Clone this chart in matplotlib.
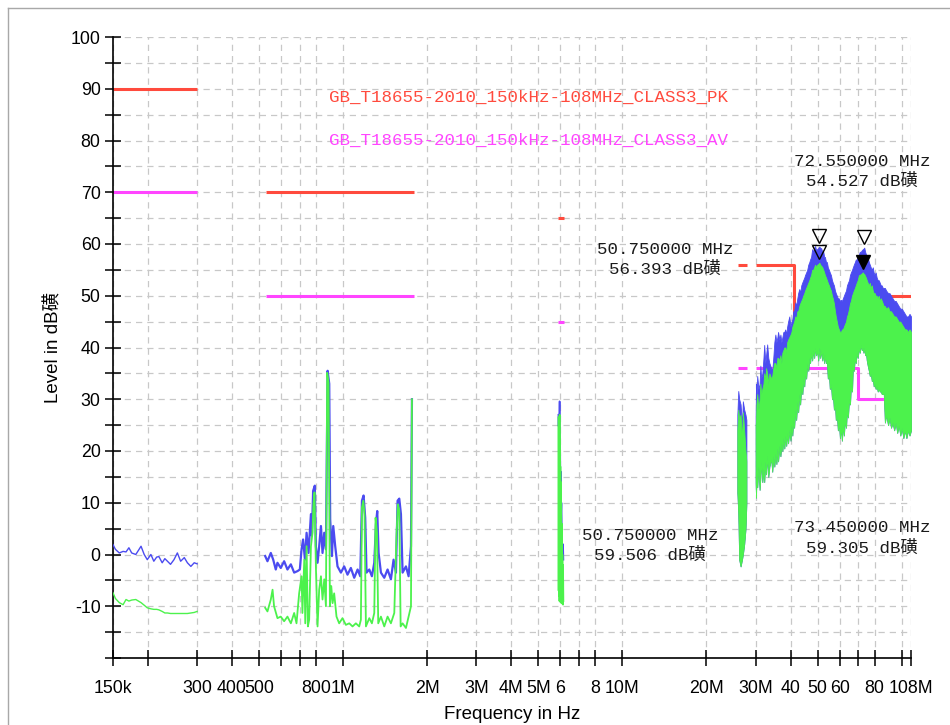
import matplotlib
matplotlib.use("Agg")
import matplotlib.pyplot as plt
from matplotlib.lines import Line2D
from matplotlib.transforms import offset_copy

# ---------------------------------------------------------------------------
# Limit lines (frequency in MHz, level in dBuV)
# ---------------------------------------------------------------------------
PK_LIMIT_F = [[0.15, 0.30], [0.53, 1.8], [5.9, 6.2], [26.0, 28.0],
              [30.0, 41.0, 41.0, 76.0, 76.0, 108.0]]
PK_LIMIT_L = [[90, 90], [70, 70], [65, 65], [56, 56],
              [56, 56, 46, 46, 50, 50]]
AV_LIMIT_F = [[0.15, 0.30], [0.53, 1.8], [5.9, 6.2], [26.0, 28.0],
              [30.0, 70.0, 70.0, 87.0]]
AV_LIMIT_L = [[70, 70], [50, 50], [45, 45], [36, 36],
              [36, 36, 30, 30]]

# ---------------------------------------------------------------------------
# LW band 150 kHz - 300 kHz
# ---------------------------------------------------------------------------
lw_f = [0.150, 0.153, 0.158, 0.163, 0.167, 0.171, 0.175, 0.181, 0.185, 0.189,
        0.194, 0.199, 0.205, 0.210, 0.215, 0.219, 0.225, 0.230, 0.235, 0.241,
        0.248, 0.255, 0.262, 0.270, 0.277, 0.285, 0.293, 0.300]
lw_pk = [1.9, 1.0, 0.3, 0.6, 0.5, 1.3, 0.3, 0.0, 0.8, 1.6,
         0.0, -1.0, 0.0, -1.3, -0.5, -0.4, -1.6, -0.8, -1.3, -1.9,
         -1.0, 0.3, -1.3, -0.6, -1.6, -2.3, -1.6, -1.8]
lw_av = [-7.4, -8.5, -9.3, -9.7, -8.7, -9.0, -8.8, -8.7, -9.0, -9.3,
         -9.8, -10.3, -10.5, -10.6, -10.6, -10.7, -11.0, -11.3, -11.3, -11.4,
         -11.4, -11.4, -11.4, -11.4, -11.4, -11.3, -11.2, -11.0]

# ---------------------------------------------------------------------------
# MW band 530 kHz - 1.8 MHz
# ---------------------------------------------------------------------------
mw_pk_f = [0.526, 0.536, 0.551, 0.562, 0.574, 0.582, 0.598, 0.615, 0.632, 0.650,
           0.668, 0.687, 0.700, 0.710, 0.719, 0.730, 0.740, 0.752, 0.767, 0.773,
           0.781, 0.792, 0.799, 0.810, 0.821, 0.833, 0.844, 0.856, 0.868, 0.880,
           0.892, 0.899, 0.912, 0.922, 0.937, 0.955, 0.982, 1.009, 1.037, 1.066,
           1.096, 1.127, 1.152, 1.168, 1.184, 1.200, 1.213, 1.241, 1.268, 1.293,
           1.311, 1.325, 1.340, 1.366, 1.404, 1.443, 1.483, 1.516, 1.546, 1.567,
           1.589, 1.611, 1.633, 1.679, 1.716, 1.750, 1.764]
mw_pk = [-0.3, -1.3, 0.3, -1.0, -2.9, -1.6, -2.6, -1.3, -2.9, -1.9,
         -3.5, -3.2, -2.9, 1.0, 2.9, -1.0, 4.2, 0.3, 7.8, 3.6,
         12.3, 13.3, 1.6, -1.6, 1.6, 5.5, 0.3, 4.2, 1.0, 35.5,
         33.0, 6.8, -0.3, 5.5, 1.6, -2.3, -3.5, -2.3, -3.9, -2.6,
         -4.5, -2.9, -4.2, 10.4, 11.4, 7.1, -3.5, -2.9, -4.2, -1.6,
         5.8, 8.4, 0.3, -3.5, -4.5, -2.9, -4.8, -1.0, -3.5, 10.4,
         10.8, 7.8, -3.5, -2.3, -4.2, 1.6, 30.0]

mw_av_f = [0.526, 0.536, 0.551, 0.559, 0.566, 0.582, 0.598, 0.615, 0.632, 0.650,
           0.668, 0.681, 0.696, 0.710, 0.715, 0.726, 0.732, 0.740, 0.748, 0.756,
           0.767, 0.777, 0.783, 0.790, 0.799, 0.810, 0.821, 0.833, 0.844, 0.856,
           0.868, 0.877, 0.887, 0.897, 0.907, 0.917, 0.929, 0.947, 0.968, 0.995,
           1.023, 1.052, 1.081, 1.111, 1.142, 1.158, 1.168, 1.181, 1.193, 1.207,
           1.241, 1.268, 1.293, 1.307, 1.322, 1.336, 1.366, 1.404, 1.443, 1.483,
           1.525, 1.554, 1.572, 1.589, 1.607, 1.633, 1.679, 1.716, 1.750, 1.764]
mw_av = [-10.3, -11.0, -8.7, -6.8, -10.0, -12.3, -12.0, -12.9, -12.0, -13.3,
         -11.3, -13.3, -7.5, -4.2, -11.3, -1.0, -13.3, 1.6, -13.9, -12.6,
         1.6, 4.2, 9.7, 12.0, -2.3, -13.9, -6.8, -4.2, -8.7, -4.8,
         -10.0, 35.1, 33.2, -10.0, -6.1, -9.4, -7.5, -12.0, -13.3, -12.3,
         -13.6, -13.3, -13.9, -13.3, -13.9, -12.6, 9.0, 10.4, 7.8, -13.9,
         -12.3, -13.3, -11.3, 7.1, 4.2, -13.3, -12.0, -13.9, -12.0, -13.3,
         -11.3, 4.2, 9.7, 8.4, -13.9, -13.3, -14.2, -12.0, -10.0, 30.0]

# ---------------------------------------------------------------------------
# SW band 5.9 MHz - 6.2 MHz
# ---------------------------------------------------------------------------
sw_pk_f = [5.90, 5.91, 5.92, 5.94, 5.96, 5.97, 5.99, 6.00, 6.02, 6.03,
           6.05, 6.07, 6.09, 6.11, 6.13, 6.15]
sw_pk = [27.0, 24.8, 26.7, 25.0, 29.6, 24.8, 19.0, 12.0, 16.0, 7.4,
         10.0, 4.8, 1.0, -1.0, 2.0, -1.0]
sw_av_f = [5.90, 5.91, 5.92, 5.93, 5.94, 5.95, 5.96, 5.97, 5.98, 5.99,
           6.00, 6.01, 6.02, 6.03, 6.04, 6.05, 6.06, 6.07, 6.08, 6.09,
           6.10, 6.11, 6.12, 6.13, 6.14, 6.15]
sw_av = [26.5, -7.0, 25.0, -8.0, 23.0, -9.0, 27.0, -7.5, 20.0, -8.5,
         17.0, -9.3, 14.0, -7.0, 10.0, -9.0, 6.0, -8.0, 3.0, -9.5,
         0.0, -8.0, -2.0, -9.7, -5.0, -9.0]

# ---------------------------------------------------------------------------
# CB band 26 - 28 MHz (sweep envelopes)
# ---------------------------------------------------------------------------
cb_f = [25.8, 26.0, 26.2, 26.5, 26.8, 27.0, 27.3, 27.6, 27.8]
cb_pk_hi = [27.0, 31.6, 30.0, 29.0, 25.0, 29.6, 28.0, 27.0, 26.0]
cb_av_hi = [24.0, 28.0, 26.0, 27.0, 22.0, 27.5, 24.0, 20.0, 18.0]
cb_av_lo = [12.0, 8.0, -1.0, -2.3, -1.0, 0.0, 2.0, 5.0, 10.0]

# ---------------------------------------------------------------------------
# VHF 30 - 108 MHz (sweep envelopes)
# ---------------------------------------------------------------------------
hb_f = [30.0, 30.1, 30.2, 30.4, 30.7, 31.0, 31.2, 31.4, 31.7, 32.0,
        32.2, 32.5, 32.7, 33.0, 33.3, 33.6, 34.1, 34.4, 34.7, 35.0,
        35.3, 35.6, 35.9, 36.1, 36.5, 36.8, 37.1, 37.4, 37.7, 38.0,
        38.3, 38.6, 38.9, 39.2, 39.6, 40.0, 40.3, 40.6, 40.9, 41.2,
        41.6, 41.9, 42.3, 42.6, 43.0, 43.3, 43.7, 44.1, 44.4, 44.8,
        45.1, 45.5, 45.9, 46.3, 46.7, 47.0, 47.4, 47.8, 48.2, 48.6,
        49.0, 49.4, 49.8, 50.25, 50.75, 51.1, 51.5, 52.0, 52.4, 52.8,
        53.1, 53.6, 54.0, 54.4, 54.9, 55.3, 55.8, 56.3, 56.7, 57.2,
        57.7, 58.1, 58.6, 59.1, 59.6, 60.1, 60.6, 61.1, 61.6, 62.1,
        62.6, 63.2, 63.7, 64.2, 64.8, 65.3, 65.8, 66.4, 66.9, 67.4,
        68.0, 68.5, 69.0, 69.6, 70.3, 70.8, 71.4, 72.0, 72.55, 73.0,
        73.45, 74.0, 74.5, 75.0, 75.6, 76.3, 76.9, 77.5, 78.2, 78.8,
        79.4, 80.1, 80.7, 81.4, 82.1, 82.8, 83.5, 84.2, 84.9, 85.6,
        86.3, 87.1, 88.0, 89.4, 90.5, 91.6, 92.8, 94.0, 95.2, 96.4,
        97.6, 98.9, 100.1, 101.4, 102.7, 104.0, 105.4, 106.7, 108.0]
hb_pk_hi = [27.0, 33.0, 30.0, 34.5, 32.0, 33.0, 36.5, 34.0, 35.0, 38.0,
            40.5, 37.0, 38.5, 40.6, 38.0, 37.0, 36.0, 35.5, 38.0, 41.0,
            42.5, 41.0, 42.0, 43.0, 41.5, 42.5, 41.0, 42.0, 43.0, 43.0,
            43.5, 42.5, 44.0, 45.0, 46.0, 44.0, 45.0, 45.5, 47.0, 47.0,
            48.7, 48.0, 49.5, 50.5, 51.3, 50.5, 52.0, 52.6, 53.0, 53.5,
            54.0, 54.5, 55.0, 56.0, 56.5, 57.0, 57.5, 59.0, 58.5, 59.3,
            59.6, 58.8, 59.0, 59.2, 59.506, 59.2, 59.2, 58.5, 58.5, 57.5,
            57.5, 56.5, 56.5, 55.5, 55.0, 54.5, 54.0, 53.0, 52.5, 52.0,
            51.0, 50.5, 50.0, 49.5, 49.5, 49.0, 49.2, 49.0, 49.5, 50.0,
            50.5, 51.0, 52.0, 52.5, 53.0, 54.0, 54.5, 55.0, 55.5, 56.0,
            56.5, 57.0, 57.0, 57.5, 58.0, 58.5, 58.5, 58.8, 59.0, 59.1,
            59.305, 58.5, 58.0, 57.0, 57.5, 56.5, 56.0, 55.5, 55.0, 55.5,
            54.5, 54.0, 54.5, 53.5, 53.0, 53.0, 52.5, 52.0, 52.0, 51.5,
            51.5, 51.5, 51.0, 50.5, 50.5, 50.0, 49.5, 49.0, 49.0, 48.5,
            48.0, 47.5, 47.5, 47.0, 46.5, 46.0, 46.0, 46.5, 46.0]
hb_av_hi = [25.0, 26.0, 29.0, 31.0, 28.0, 30.0, 33.0, 31.0, 32.0, 33.0,
            35.0, 34.0, 36.0, 35.0, 33.0, 35.0, 34.0, 34.5, 36.0, 37.0,
            37.0, 36.0, 38.0, 38.0, 37.5, 38.5, 37.0, 39.0, 39.5, 40.0,
            40.0, 39.0, 41.0, 41.5, 42.0, 42.5, 43.0, 44.0, 44.5, 45.0,
            46.0, 45.5, 47.0, 47.0, 48.0, 48.5, 49.0, 49.5, 50.0, 50.5,
            51.0, 51.5, 52.0, 52.5, 53.0, 53.5, 54.0, 55.0, 55.0, 55.5,
            56.0, 55.5, 56.0, 56.1, 56.393, 56.0, 55.8, 55.5, 55.0, 54.5,
            54.0, 53.5, 53.0, 52.5, 52.0, 51.5, 51.0, 50.0, 49.5, 48.5,
            47.0, 46.0, 45.0, 44.0, 43.5, 43.0, 43.0, 43.5, 43.5, 44.0,
            44.5, 45.0, 46.0, 46.5, 47.5, 48.5, 49.0, 50.0, 50.5, 51.0,
            51.5, 52.0, 52.5, 53.0, 54.0, 54.0, 54.2, 54.3, 54.527, 54.3,
            54.2, 53.8, 53.5, 53.0, 52.5, 52.0, 52.5, 51.5, 52.0, 51.0,
            50.5, 50.5, 50.0, 50.0, 49.5, 50.0, 49.0, 49.5, 49.0, 48.5,
            48.0, 48.0, 47.5, 47.8, 47.0, 47.0, 46.5, 46.0, 46.0, 45.5,
            45.0, 45.0, 44.5, 44.0, 43.5, 43.5, 43.0, 43.5, 43.0]
hb_av_lo = [14.0, 11.0, 16.0, 13.0, 17.0, 12.5, 15.0, 18.0, 14.0, 16.5,
            14.0, 18.0, 15.5, 19.0, 15.0, 17.0, 18.5, 16.0, 19.0, 17.0,
            19.5, 17.5, 20.5, 18.0, 21.0, 19.0, 21.5, 20.0, 22.5, 20.5,
            23.0, 21.0, 23.5, 21.5, 24.0, 22.0, 25.0, 23.0, 26.0, 24.5,
            28.0, 26.0, 29.5, 27.5, 31.0, 29.0, 32.5, 31.0, 34.0, 32.5,
            35.5, 34.0, 37.0, 35.5, 38.0, 37.0, 39.0, 37.5, 39.5, 38.0,
            40.0, 38.5, 39.5, 37.5, 40.0, 38.0, 39.5, 37.5, 39.0, 37.0,
            38.5, 37.0, 37.0, 34.0, 35.0, 32.0, 33.0, 30.0, 31.0, 28.0,
            29.0, 26.0, 27.0, 24.0, 25.5, 22.5, 24.5, 22.0, 25.0, 23.0,
            26.0, 24.5, 28.0, 26.5, 30.0, 29.0, 32.5, 31.5, 36.5, 35.5,
            38.0, 37.0, 39.0, 38.0, 40.0, 39.0, 40.5, 39.5, 40.0, 39.0,
            40.0, 38.5, 39.0, 37.5, 36.5, 35.5, 34.5, 35.0, 33.5, 34.0,
            32.5, 33.0, 32.0, 32.5, 31.5, 32.0, 31.5, 31.5, 31.0, 31.0,
            31.0, 25.5, 27.0, 25.0, 26.5, 24.5, 25.5, 24.0, 25.5, 23.5,
            25.0, 23.0, 24.5, 22.5, 24.0, 22.5, 24.0, 23.0, 24.0]

# Peak markers: (freq MHz, level dBuV, filled?)
MARKERS = [(50.75, 59.506, False), (50.75, 56.393, False),
           (73.45, 59.305, False), (72.55, 54.527, True)]

# Marker readouts: (text x MHz, text y dB, freq MHz, level dB)
READOUTS = [(72.2, 74.0, 72.55, 54.527), (14.2, 57.0, 50.75, 56.393),
            (12.6, 1.7, 50.75, 59.506), (72.2, 3.2, 73.45, 59.305)]

XTICKS = [0.15, 0.2, 0.3, 0.4, 0.5, 0.6, 0.7, 0.8, 1, 2, 3, 4, 5, 6, 7, 8,
          10, 20, 30, 40, 50, 60, 70, 80, 100, 108]
XTICKLABELS = ["150k", "", "300", "400", "500", "", "", "800", "1M", "2M",
               "3M", "4M", "5M", "6", "", "8", "10M", "20M", "30M", "40",
               "50", "60", "", "80", "", "108M"]
YTICKS = list(range(-20, 101, 5))
YTICKLABELS = [str(v) if v % 10 == 0 and v > -20 else "" for v in YTICKS]

PK_COLOR = "#4b4bf0"
AV_COLOR = "#4cf24c"
PK_LIM_COLOR = "#ff4a3d"
AV_LIM_COLOR = "#ff45ff"

SANS = ["Liberation Sans", "Noto Sans CJK SC"]
MONO = ["Liberation Mono", "Noto Sans CJK SC"]

fig = plt.figure(figsize=(9.5, 7.25), dpi=100)
fig.patch.set_facecolor("white")
ax = fig.add_axes([113 / 950, 1 - 658 / 725, 798 / 950, 621 / 725])

# limits below the traces
for f, l in zip(PK_LIMIT_F, PK_LIMIT_L):
    ax.plot(f, l, color=PK_LIM_COLOR, lw=2.2, zorder=2, solid_capstyle="butt")
for f, l in zip(AV_LIMIT_F, AV_LIMIT_L):
    ax.plot(f, l, color=AV_LIM_COLOR, lw=2.2, zorder=2, solid_capstyle="butt")

# peak (blue) traces
ax.plot(lw_f, lw_pk, color=PK_COLOR, lw=1.0, zorder=3)
ax.plot(mw_pk_f, mw_pk, color=PK_COLOR, lw=1.6, zorder=3)
ax.plot(sw_pk_f, sw_pk, color=PK_COLOR, lw=1.2, zorder=3)
ax.fill_between(cb_f, cb_av_lo, cb_pk_hi, color=PK_COLOR, lw=0.6, zorder=3)
ax.fill_between(hb_f, hb_av_lo, hb_pk_hi, color=PK_COLOR, lw=0.6, zorder=3)

# average (green) traces
ax.plot(lw_f, lw_av, color=AV_COLOR, lw=1.0, zorder=4)
ax.plot(mw_av_f, mw_av, color=AV_COLOR, lw=1.3, zorder=4)
ax.plot(sw_av_f, sw_av, color=AV_COLOR, lw=1.2, zorder=4)
ax.fill_between(cb_f, cb_av_lo, cb_av_hi, color=AV_COLOR, lw=0.6, zorder=4)
ax.fill_between(hb_f, hb_av_lo, hb_av_hi, color=AV_COLOR, lw=0.6, zorder=4)

# triangle markers sit just above the level they flag
mk_trans = offset_copy(ax.transData, fig=fig, x=0, y=7.5, units="points")
for f, lev, filled in MARKERS:
    ax.plot(f, lev, marker="v", ms=10, mew=1.0, mec="black",
            mfc="black" if filled else "none", transform=mk_trans,
            zorder=6, clip_on=False)

for tx, ty, f, lev in READOUTS:
    ax.text(tx, ty, f"{f:.6f} MHz\n{lev:.3f} dB磺", ha="center", va="center",
            fontsize=12.6, family=MONO, color="#1a1a1a", linespacing=1.3,
            zorder=7)

ax.text(0.893, 88.4, "GB_T18655-2010_150kHz-108MHz_CLASS3_PK",
        color=PK_LIM_COLOR, fontsize=12.6, family=MONO, va="center", zorder=7)
ax.text(0.893, 80.1, "GB_T18655-2010_150kHz-108MHz_CLASS3_AV",
        color=AV_LIM_COLOR, fontsize=12.6, family=MONO, va="center", zorder=7)

ax.set_xscale("log")
ax.set_xlim(0.15, 108)
ax.set_ylim(-20, 100)
ax.set_xticks(XTICKS)
ax.set_xticklabels(XTICKLABELS)
ax.xaxis.set_minor_locator(matplotlib.ticker.NullLocator())
ax.set_yticks(YTICKS)
ax.set_yticklabels(YTICKLABELS)

for lab in ax.get_xticklabels() + ax.get_yticklabels():
    lab.set_family(SANS)
    lab.set_fontsize(12.8)
ax.tick_params(axis="both", direction="inout", length=12, width=1.1,
               colors="black")
ax.tick_params(axis="x", pad=10)
ax.tick_params(axis="y", pad=3)

ax.grid(True, ls=(0, (5, 4)), color="#c8c8c8", lw=0.9, zorder=0)
ax.set_axisbelow(True)
for sp in ("top", "right"):
    ax.spines[sp].set_visible(False)
for sp in ("left", "bottom"):
    ax.spines[sp].set_linewidth(1.2)

ax.set_xlabel("Frequency in Hz", family=SANS, fontsize=13.5, labelpad=6)
ax.set_ylabel("Level in dB磺", family=SANS, fontsize=13.5, labelpad=6)

# thin frame round the whole panel
fig.add_artist(Line2D([8 / 950, 8 / 950], [0, 1 - 8 / 725],
                      transform=fig.transFigure, color="#a8a8a8", lw=1))
fig.add_artist(Line2D([8 / 950, 1], [1 - 8 / 725, 1 - 8 / 725],
                      transform=fig.transFigure, color="#a8a8a8", lw=1))

fig.savefig("out.png", dpi=100)
